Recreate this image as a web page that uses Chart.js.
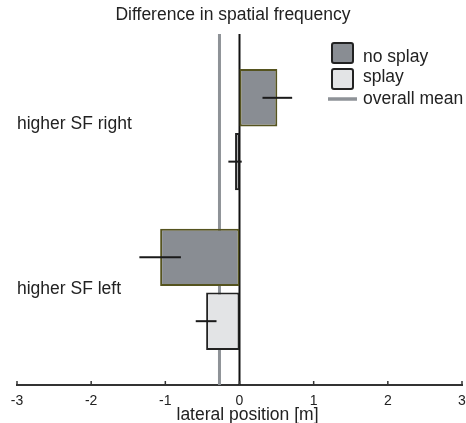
<!DOCTYPE html>
<html><head><meta charset="utf-8">
<script src="https://cdn.jsdelivr.net/npm/chart.js@4.4.0/dist/chart.umd.min.js"></script>
<style>html,body{margin:0;padding:0;background:#fff}#wrap{width:466px;height:423px}</style>
</head><body><div id="wrap"><canvas id="c" width="466" height="423"></canvas></div>
<script>
const categories = ['higher SF right', 'higher SF left'];
const seriesNames = ['no splay', 'splay'];
const noSplay = [0.51, -1.07];
const noSplayErr = [0.20, 0.28];
const splay = [-0.06, -0.45];
const splayErr = [0.09, 0.14];
const overallMean = -0.27;
const meanLabel = 'overall mean';
const xTicks = [-3, -2, -1, 0, 1, 2, 3];
const titleText = 'Difference in spatial frequency';
const xTitle = 'lateral position [m]';

const FONT = "'Liberation Sans', Arial, sans-serif";
const TXT = '#222';
Chart.defaults.font.family = FONT;

const seriesValues = [noSplay, splay];
const seriesErrors = [noSplayErr, splayErr];
const seriesFill = ['#898d93', '#e3e4e6'];
const seriesBorder = ['#55531f', '#222222'];

const datasets = seriesNames.map((name, s) => ({
  label: name,
  data: seriesValues[s].map((v, i) => ({x: v, y: i})),
  backgroundColor: seriesFill[s],
  borderColor: seriesBorder[s],
  borderWidth: 2,
  borderSkipped: false
}));

const labelOffsets = [-1, 4.5];

const decor = {
  id: 'decor',
  beforeDatasetsDraw(chart) {
    const {ctx, chartArea: a, scales: {x}} = chart;
    ctx.save();
    const mx = x.getPixelForValue(overallMean);
    ctx.strokeStyle = '#8e9297'; ctx.lineWidth = 3;
    ctx.beginPath(); ctx.moveTo(mx, a.top); ctx.lineTo(mx, a.bottom); ctx.stroke();
    const zx = x.getPixelForValue(0);
    ctx.strokeStyle = '#111'; ctx.lineWidth = 2;
    ctx.beginPath(); ctx.moveTo(zx, a.top); ctx.lineTo(zx, a.bottom); ctx.stroke();
    ctx.strokeStyle = '#333'; ctx.lineWidth = 1.5;
    xTicks.forEach(t => {
      const px = x.getPixelForValue(t);
      ctx.beginPath(); ctx.moveTo(px, a.bottom); ctx.lineTo(px, a.bottom - 4); ctx.stroke();
    });
    ctx.restore();
  },
  afterDatasetsDraw(chart) {
    const {ctx, chartArea: a, scales: {x, y}} = chart;
    ctx.save();
    ctx.strokeStyle = '#1a1a1a'; ctx.lineWidth = 2;
    seriesNames.forEach((n, s) => {
      const meta = chart.getDatasetMeta(s);
      meta.data.forEach((bar, i) => {
        const v = seriesValues[s][i], e = seriesErrors[s][i];
        ctx.beginPath();
        ctx.moveTo(x.getPixelForValue(v - e), bar.y);
        ctx.lineTo(x.getPixelForValue(v + e), bar.y);
        ctx.stroke();
      });
    });
    ctx.fillStyle = TXT;
    ctx.font = '17.5px ' + FONT;
    ctx.textAlign = 'left'; ctx.textBaseline = 'alphabetic';
    categories.forEach((c, i) => {
      ctx.fillText(c, a.left, y.getPixelForValue(i) + labelOffsets[i]);
    });
    // x axis title
    ctx.textAlign = 'center';
    ctx.fillText(xTitle, (a.left + a.right) / 2 + 8, 419.5);
    // legend
    ctx.textAlign = 'left';
    const lx = 332, tx = 363;
    const boxes = [43, 69];
    const baselines = [61.5, 82];
    seriesNames.forEach((n, s) => {
      const by = boxes[s];
      ctx.beginPath();
      ctx.roundRect(lx, by, 21, 20, 2);
      ctx.fillStyle = seriesFill[s]; ctx.fill();
      ctx.strokeStyle = '#222'; ctx.lineWidth = 2; ctx.stroke();
      ctx.fillStyle = TXT;
      ctx.fillText(n, tx, baselines[s]);
    });
    ctx.strokeStyle = '#8e9297'; ctx.lineWidth = 3.5;
    ctx.beginPath(); ctx.moveTo(328, 99); ctx.lineTo(357, 99); ctx.stroke();
    ctx.fillStyle = TXT;
    ctx.fillText(meanLabel, tx, 104);
    ctx.restore();
  }
};

new Chart(document.getElementById('c'), {
  type: 'bar',
  data: {datasets},
  plugins: [decor],
  options: {
    indexAxis: 'y',
    responsive: false,
    animation: false,
    layout: {padding: 0},
    plugins: {
      legend: {display: false},
      tooltip: {enabled: false},
      title: {display: true, text: titleText, color: TXT,
        font: {family: FONT, size: 17.5, weight: 'normal'}, padding: {top: 5, bottom: 8}}
    },
    scales: {
      x: {
        type: 'linear', min: -3, max: 3,
        afterBuildTicks: s => { s.ticks = xTicks.map(v => ({value: v})); },
        grid: {display: false, drawTicks: false},
        border: {display: true, color: '#333', width: 2},
        ticks: {color: TXT, font: {size: 14}, padding: 8, maxRotation: 0, autoSkip: false},
        title: {display: false, text: xTitle},
        afterFit: s => { s.height = 38; s.paddingLeft = 17; s.paddingRight = 4; }
      },
      y: {
        type: 'linear', display: false, reverse: true, min: -0.6, max: 1.6, offset: false,
        afterBuildTicks: s => { s.ticks = categories.map((c, i) => ({value: i})); }
      }
    }
  }
});
</script></body></html>
